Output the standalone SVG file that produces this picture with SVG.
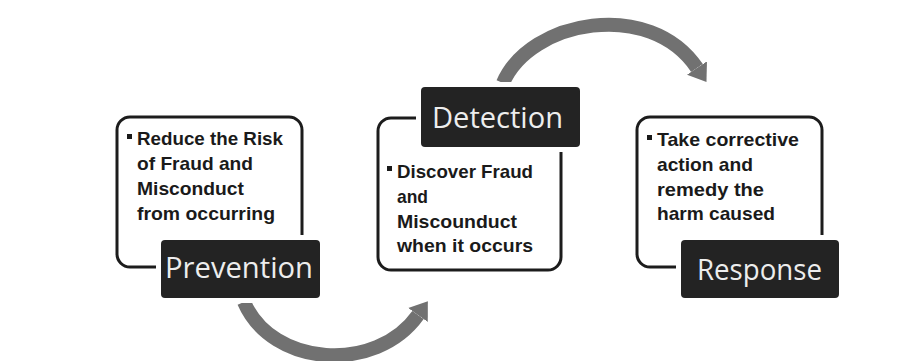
<svg xmlns="http://www.w3.org/2000/svg" width="910" height="361" viewBox="0 0 910 361">
  <style>
    .frame { fill: none; stroke: #1c1c1c; stroke-width: 3; }
    .tag { fill: #232323; stroke: #ffffff; stroke-width: 10; paint-order: stroke; }
    .tag-text { font-family: "Open Sans", "Liberation Sans", sans-serif; font-size: 30px; fill: #ededed; }
    .body { font-family: "Liberation Sans", Arial, sans-serif; font-size: 19px; font-weight: bold; fill: #1a1a1a; }
    .dot { fill: #1a1a1a; }
    .flow { fill: none; stroke: #717171; stroke-width: 14; stroke-linecap: butt; }
  </style>
  <defs>
    <marker id="head" markerUnits="userSpaceOnUse" viewBox="0 -14 20 28" markerWidth="20" markerHeight="28" refX="0" refY="0" orient="auto">
      <path d="M0,-12 L17,0 L0,12 Z" fill="#717171"/>
    </marker>
  </defs>

  <rect width="910" height="361" fill="#ffffff"/>

  <!-- curved flow arrows between the stages -->
  <g id="connectors">
    <path class="flow" d="M244,302 C272,367 376,374 418,315" marker-end="url(#head)"/>
    <path class="flow" d="M503,83 C530,20 650,-2 697,68" marker-end="url(#head)"/>
  </g>

  <!-- Prevention -->
  <g id="prevention">
    <rect class="frame" x="117" y="117" width="185" height="150" rx="13"/>
    <rect class="dot" x="127" y="134" width="5" height="5"/>
    <text class="body" x="137" y="145" textLength="146" lengthAdjust="spacingAndGlyphs">Reduce the Risk</text>
    <text class="body" x="137" y="170" textLength="116" lengthAdjust="spacingAndGlyphs">of Fraud and</text>
    <text class="body" x="137" y="195" textLength="107" lengthAdjust="spacingAndGlyphs">Misconduct</text>
    <text class="body" x="137" y="220" textLength="138" lengthAdjust="spacingAndGlyphs">from occurring</text>
    <rect class="tag" x="161" y="240" width="159" height="58" rx="4"/>
    <text class="tag-text" x="165" y="278" textLength="148" lengthAdjust="spacingAndGlyphs">Prevention</text>
  </g>

  <!-- Detection -->
  <g id="detection">
    <rect class="frame" x="378" y="118" width="183" height="152" rx="13"/>
    <rect class="dot" x="387" y="166" width="5" height="5"/>
    <text class="body" x="397" y="178" textLength="136" lengthAdjust="spacingAndGlyphs">Discover Fraud</text>
    <text class="body" x="397" y="203" textLength="31" lengthAdjust="spacingAndGlyphs">and</text>
    <text class="body" x="397" y="228" textLength="120" lengthAdjust="spacingAndGlyphs">Miscounduct</text>
    <text class="body" x="397" y="252" textLength="136" lengthAdjust="spacingAndGlyphs">when it occurs</text>
    <rect class="tag" x="421" y="87" width="159" height="60" rx="4"/>
    <text class="tag-text" x="432" y="128" textLength="131" lengthAdjust="spacingAndGlyphs">Detection</text>
  </g>

  <!-- Response -->
  <g id="response">
    <rect class="frame" x="637" y="117" width="185" height="150" rx="13"/>
    <rect class="dot" x="647" y="135" width="5" height="5"/>
    <text class="body" x="657" y="146" textLength="142" lengthAdjust="spacingAndGlyphs">Take corrective</text>
    <text class="body" x="657" y="171" textLength="96" lengthAdjust="spacingAndGlyphs">action and</text>
    <text class="body" x="657" y="196" textLength="107" lengthAdjust="spacingAndGlyphs">remedy the</text>
    <text class="body" x="657" y="220" textLength="118" lengthAdjust="spacingAndGlyphs">harm caused</text>
    <rect class="tag" x="681" y="240" width="158" height="58" rx="4"/>
    <text class="tag-text" x="697" y="280" textLength="125" lengthAdjust="spacingAndGlyphs">Response</text>
  </g>
</svg>
